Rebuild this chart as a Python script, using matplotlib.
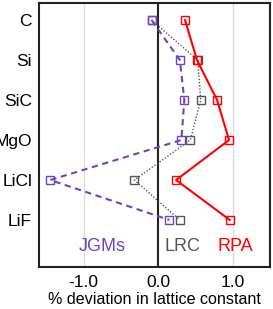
import matplotlib
matplotlib.use('Agg')
import matplotlib.pyplot as plt

plt.rcParams['font.family'] = ['Liberation Sans', 'DejaVu Sans']

materials = ['C', 'Si', 'SiC', 'MgO', 'LiCl', 'LiF']
jgms = [-0.09, 0.29, 0.35, 0.31, -1.45, 0.15]
lrc = [-0.09, 0.53, 0.57, 0.43, -0.32, 0.29]
rpa = [0.36, 0.52, 0.79, 0.95, 0.24, 0.96]

purple = '#7040cc'
gray = '#555555'
red = '#ff0000'

fig = plt.figure(figsize=(2.73, 3.09), dpi=100)
ax = fig.add_axes([0.143, 0.136, 0.846, 0.854])

ypos = list(range(len(materials)))

ax.axvline(-1.0, color='#dddddd', lw=1, zorder=0)
ax.axvline(1.0, color='#dddddd', lw=1, zorder=0)
ax.axvline(0.0, color='#222222', lw=1.5, zorder=1)

ax.plot(jgms, ypos, color=purple, lw=1.5, dashes=(3, 2.2), marker='s', ms=5.5,
        mfc='none', mec=purple, mew=1, zorder=3)
ax.plot(lrc, ypos, color=gray, lw=1.0, dashes=(1, 1.3), marker='s', ms=5.5,
        mfc='none', mec=gray, mew=1, zorder=2)
ax.plot(rpa, ypos, '-', color=red, lw=1.5, marker='s', ms=5.5,
        mfc='none', mec=red, mew=1, zorder=2)

ax.text(-0.75, 5.67, 'JGMs', color=purple, fontsize=13, ha='center', va='center')
ax.text(0.33, 5.67, 'LRC', color=gray, fontsize=13, ha='center', va='center')
ax.text(1.03, 5.67, 'RPA', color=red, fontsize=13, ha='center', va='center')

ax.set_xlim(-1.6, 1.5)
ax.set_ylim(6.175, -0.425)
ax.set_yticks(ypos)
ax.set_yticklabels(materials, fontsize=12.5)
ax.set_xticks([-1.0, 0.0, 1.0])
ax.set_xticklabels(['-1.0', '0.0', '1.0'], fontsize=12.5)
ax.tick_params(axis='x', length=0, pad=6)
ax.tick_params(axis='y', length=0, pad=5)
ax.set_xlabel('% deviation in lattice constant', fontsize=11.6, labelpad=1)
for s in ax.spines.values():
    s.set_linewidth(1.5)
    s.set_color('#222222')

fig.savefig('out.png', dpi=100)
